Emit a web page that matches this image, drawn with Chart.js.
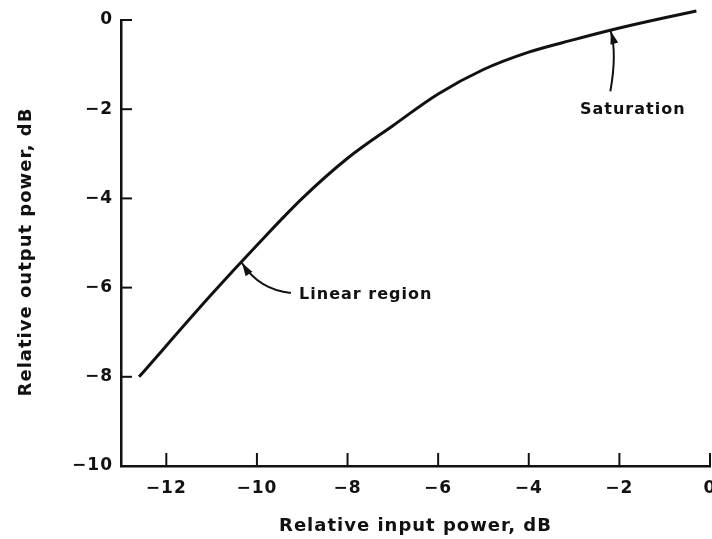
<!DOCTYPE html>
<html lang="en">
<head>
    <meta charset="UTF-8">
    <title>Relative output vs input power</title>
    <script src="https://cdn.jsdelivr.net/npm/chart.js"></script>
    <style>
        html, body { margin: 0; padding: 0; background: #fff; }
        #wrap { width: 712px; height: 539px; }
    </style>
</head>
<body>
    <div id="wrap"><canvas id="powerChart"></canvas></div>

    <script>
        // Data
        const inputDb = [-12.6, -11, -10, -9, -8, -7, -6, -5, -4, -3, -2, -1, -0.3];
        const outputDb = [-8.0, -6.15, -5.05, -4.0, -3.1, -2.37, -1.66, -1.11, -0.72, -0.44, -0.18, 0.05, 0.2];
        const xTicks = [-12, -10, -8, -6, -4, -2, 0];
        const yTicks = [0, -2, -4, -6, -8, -10];

        const ink = '#111';
        const fam = '"DejaVu Sans", Verdana, sans-serif';

        // scanned lettering is a bit loose, so open the spacing up for all text
        const spacing = {
            id: 'spacing',
            beforeDraw(chart) { chart.ctx.letterSpacing = '1px'; }
        };

        // inward tick marks, y title and the two callouts
        const extras = {
            id: 'extras',
            afterDatasetsDraw(chart) {
                const { ctx, chartArea, scales: { x, y } } = chart;
                ctx.save();
                ctx.strokeStyle = ink;
                ctx.fillStyle = ink;
                ctx.lineWidth = 2;
                xTicks.forEach(v => {
                    const px = x.getPixelForValue(v);
                    ctx.beginPath();
                    ctx.moveTo(px, chartArea.bottom);
                    ctx.lineTo(px, chartArea.bottom - 13);
                    ctx.stroke();
                });
                yTicks.forEach(v => {
                    const py = y.getPixelForValue(v);
                    ctx.beginPath();
                    ctx.moveTo(chartArea.left, py);
                    ctx.lineTo(chartArea.left + 11, py);
                    ctx.stroke();
                });

                ctx.letterSpacing = '1px';

                // y axis title
                ctx.save();
                ctx.translate(26, 252);
                ctx.rotate(-Math.PI / 2);
                ctx.font = 'bold 18px ' + fam;
                ctx.textAlign = 'center';
                ctx.textBaseline = 'middle';
                ctx.fillText('Relative output power, dB', 0, 0);
                ctx.restore();

                // callout labels
                ctx.font = 'bold 16px ' + fam;
                ctx.textBaseline = 'middle';
                ctx.textAlign = 'left';
                ctx.fillText('Saturation', x.getPixelForValue(-2.87), y.getPixelForValue(-2.02));
                ctx.fillText('Linear region', x.getPixelForValue(-9.07), y.getPixelForValue(-6.17));

                const arrow = (x0, y0, cx, cy, x1, y1) => {
                    ctx.lineWidth = 2;
                    ctx.beginPath();
                    ctx.moveTo(x0, y0);
                    ctx.quadraticCurveTo(cx, cy, x1, y1);
                    ctx.stroke();
                    const ang = Math.atan2(y1 - cy, x1 - cx);
                    ctx.beginPath();
                    ctx.moveTo(x1, y1);
                    ctx.lineTo(x1 - 13 * Math.cos(ang) + 4 * Math.sin(ang), y1 - 13 * Math.sin(ang) - 4 * Math.cos(ang));
                    ctx.lineTo(x1 - 13 * Math.cos(ang) - 4 * Math.sin(ang), y1 - 13 * Math.sin(ang) + 4 * Math.cos(ang));
                    ctx.closePath();
                    ctx.fill();
                };
                arrow(x.getPixelForValue(-2.2), y.getPixelForValue(-1.6),
                      x.getPixelForValue(-2.05), y.getPixelForValue(-0.75),
                      x.getPixelForValue(-2.19), y.getPixelForValue(-0.25));
                arrow(x.getPixelForValue(-9.25), y.getPixelForValue(-6.12),
                      x.getPixelForValue(-9.95), y.getPixelForValue(-6.05),
                      x.getPixelForValue(-10.33), y.getPixelForValue(-5.45));
                ctx.restore();
            }
        };

        new Chart(document.getElementById('powerChart'), {
            type: 'line',
            data: {
                datasets: [{
                    data: inputDb.map((v, i) => ({ x: v, y: outputDb[i] })),
                    borderColor: ink,
                    borderWidth: 3,
                    pointRadius: 0,
                    cubicInterpolationMode: 'monotone',
                    clip: false
                }]
            },
            options: {
                responsive: true,
                maintainAspectRatio: false,
                animation: false,
                layout: { padding: { top: 20, right: 2, left: 0, bottom: 0 } },
                plugins: { legend: { display: false }, tooltip: { enabled: false } },
                scales: {
                    x: {
                        type: 'linear',
                        min: -13,
                        max: 0,
                        afterBuildTicks: s => { s.ticks = xTicks.map(v => ({ value: v })); },
                        afterFit: s => { s.height = 73; s.paddingLeft = 0; s.paddingRight = 0; },
                        grid: { display: false, drawTicks: false },
                        border: { display: true, color: ink, width: 2.5 },
                        ticks: {
                            padding: 12,
                            color: ink,
                            font: { family: fam, size: 17, weight: 'bold' },
                            callback: v => String(v).replace('-', '\u2212')
                        },
                        title: {
                            display: true,
                            text: 'Relative input power, dB',
                            color: ink,
                            font: { family: fam, size: 18, weight: 'bold' },
                            padding: { top: 0, bottom: 2 }
                        }
                    },
                    y: {
                        type: 'linear',
                        min: -10,
                        max: 0,
                        afterBuildTicks: s => { s.ticks = yTicks.map(v => ({ value: v })); },
                        afterFit: s => { s.width = 121; s.paddingTop = 0; s.paddingBottom = 0; },
                        grid: { display: false, drawTicks: false },
                        border: { display: true, color: ink, width: 2.5 },
                        ticks: {
                            padding: 8,
                            color: ink,
                            font: { family: fam, size: 17, weight: 'bold' },
                            callback: v => String(v).replace('-', '\u2212')
                        }
                    }
                }
            },
            plugins: [spacing, extras]
        });
    </script>
</body>
</html>
